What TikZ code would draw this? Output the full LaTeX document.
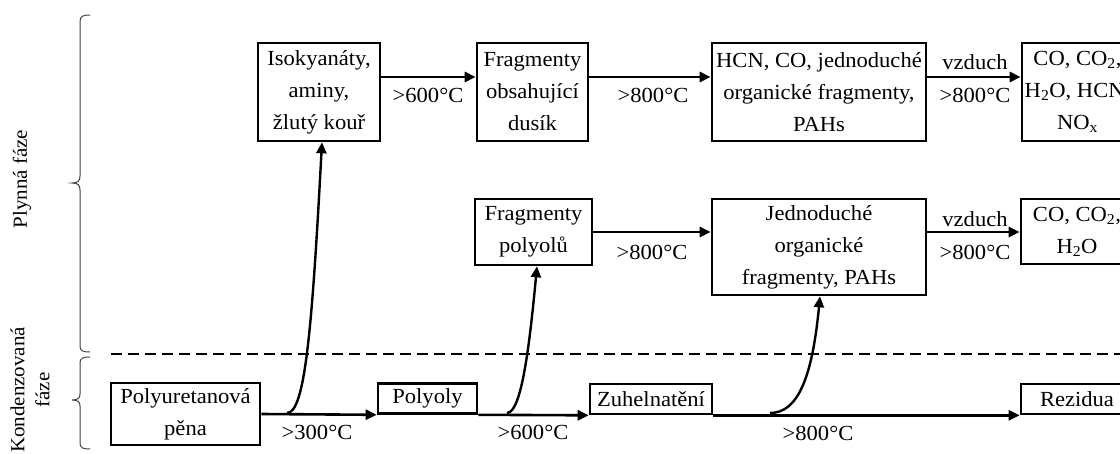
\documentclass[tikz,border=0pt]{standalone}
\usepackage{fontspec}
\setmainfont[FakeStretch=1.05]{Liberation Serif}
\usetikzlibrary{arrows.meta}
\begin{document}
\begin{tikzpicture}[x=1pt,y=-1pt,
  box/.style={draw,line width=2.6pt,inner sep=0pt,align=center,font=\fontsize{21.5}{32}\selectfont},
  arr/.style={line width=2.6pt,-{Triangle[length=11pt,width=10pt]}},
  curv/.style={line width=2.4pt,-{Triangle[length=11pt,width=10pt]}},
  lbl/.style={inner sep=0pt,font=\fontsize{21.5}{32}\selectfont},
  side/.style={inner sep=0pt,rotate=90,align=center,font=\fontsize{20}{25}\selectfont},
  brace/.style={line width=1pt,draw=black!75},
  dash line/.style={line width=2.6pt,dash pattern=on 11pt off 6pt}]
\clip (0,0) rectangle (1120,453);
\useasboundingbox (0,0) rectangle (1120,453);

% side labels and braces
\node[side] (pf) at (22,179) {Plynná fáze};
\node[side] (kf) at (30,390) {Kondenzovaná\\fáze};
\draw[brace] (90,15) .. controls (83,15) and (80,16) .. (80,22) -- (80,176)
  .. controls (80,181) and (78,183) .. (72,183)
  .. controls (78,183) and (80,185) .. (80,190) -- (80,346)
  .. controls (80,351) and (83,352) .. (90,352);
\draw[brace] (90,357) .. controls (83,357) and (80,358) .. (80,363) -- (80,394)
  .. controls (80,398) and (78,400) .. (72,400)
  .. controls (78,400) and (80,402) .. (80,406) -- (80,443)
  .. controls (80,448) and (83,449) .. (90,449);

% top row
\node[box,minimum width=122pt,minimum height=98pt] (iso) at (319,92) {Isokyanáty,\\aminy,\\žlutý kouř};
\node[box,minimum width=111pt,minimum height=98pt] (frag) at (532.5,92) {Fragmenty\\obsahující\\dusík};
\node[box,minimum width=214pt,minimum height=98pt] (hcn) at (819,92) {HCN, CO, jednoduché\\organické fragmenty,\\PAHs};
\node[box,minimum width=111pt,minimum height=98pt] (co1) at (1077.5,92) {CO, CO\textsubscript{2},\\H\textsubscript{2}O, HCN,\\NO\textsubscript{x}};

% middle row
\node[box,minimum width=117pt,minimum height=66pt] (pol) at (533.5,232) {Fragmenty\\polyolů};
\node[box,minimum width=214pt,minimum height=96pt] (jed) at (819,247) {Jednoduché\\organické\\fragmenty, PAHs};
\node[box,minimum width=112pt,minimum height=65pt] (co2) at (1077,231.5) {CO, CO\textsubscript{2},\\H\textsubscript{2}O};

% bottom row
\node[box,minimum width=149pt,minimum height=62pt] (pu) at (185.5,414) {Polyuretanová\\pěna};
\node[box,minimum width=99pt,minimum height=30pt] (po) at (427.5,398.5) {Polyoly};
\node[box,minimum width=122pt,minimum height=30pt] (zu) at (651,399) {Zuhelnatění};
\node[box,minimum width=112pt,minimum height=30pt] (rz) at (1077,399) {Rezidua};

% labels
\node[lbl] (l1) at (428,95) {>600°C};
\node[lbl] (l2) at (653,95) {>800°C};
\node[lbl] (l3) at (975,62) {vzduch};
\node[lbl] (l4) at (975,95) {>800°C};
\node[lbl] (l5) at (652,252) {>800°C};
\node[lbl] (l6) at (975,219) {vzduch};
\node[lbl] (l7) at (975,252) {>800°C};
\node[lbl] (l8) at (317,432) {>300°C};
\node[lbl] (l9) at (533,432) {>600°C};
\node[lbl] (l10) at (818,433) {>800°C};

% dashed phase boundary
\coordinate (dl) at (111,354);
\coordinate (dr) at (1125,354);
\draw[dash line] (dl) -- (dr);

% connectors top row
\draw[arr] ([yshift=15pt]iso.east) -- ([yshift=15pt]frag.west);
\draw[arr] ([yshift=15pt]frag.east) -- ([yshift=15pt]hcn.west);
\draw[arr] ([yshift=15pt]hcn.east) -- ([yshift=15pt]co1.west);
% middle row
\draw[arr] (pol.east) -- (pol.east -| jed.west);
\draw[arr] ([yshift=15pt]jed.east) -- ([yshift=15pt]jed.east -| co2.west);
% bottom row
\draw[arr] (pu.east) -- (po.south west);
\draw[arr] (po.south east) -- (zu.south west);
\draw[arr] (zu.south east) -- (rz.south west);

% branching curves
\coordinate (c1) at (287,413);
\coordinate (c2) at (507,413);
\coordinate (c3) at (770,413);
\draw[curv] (c1) .. controls (305,413) and (312,330) .. ([xshift=3pt]iso.south);
\draw[curv] (c2) .. controls (522,413) and (530,340) .. ([xshift=3.5pt]pol.south);
\draw[curv] (c3) .. controls (797,413) and (812,380) .. ([xshift=1pt]jed.south);
\end{tikzpicture}
\end{document}
